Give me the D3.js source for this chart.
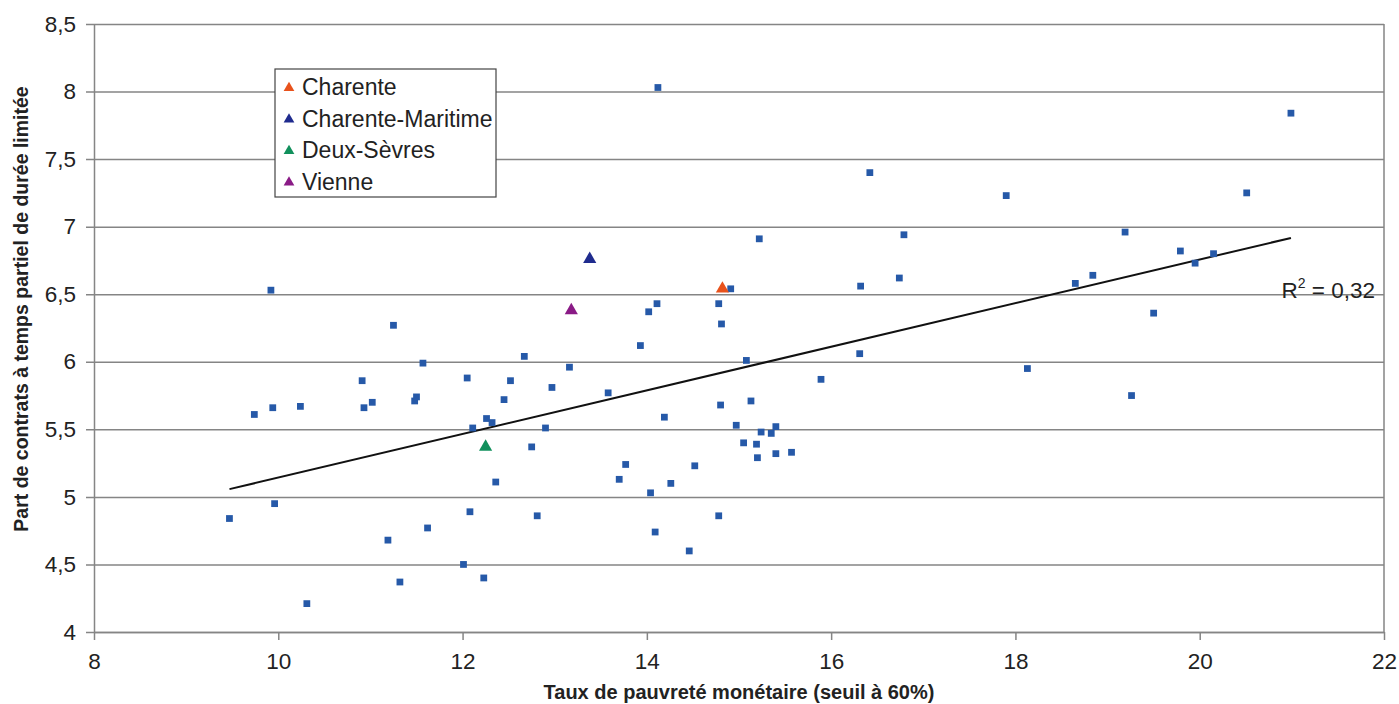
<!DOCTYPE html>
<html lang="fr">
<head>
<meta charset="utf-8">
<script src="https://cdn.jsdelivr.net/npm/d3@7"></script>
<style>
  html, body { margin: 0; padding: 0; background: #fff; }
  svg { display: block; font-family: "Liberation Sans", Arial, sans-serif; }
</style>
</head>
<body>
<svg id="chart" width="1399" height="704"></svg>
<script>
// Départements : taux de pauvreté monétaire (x) et part de contrats TPDL (y)
const povertyRate = [
  9.47, 9.74, 9.92, 9.94, 9.96, 10.24, 10.31, 10.91, 10.93, 11.02,
  11.19, 11.25, 11.32, 11.48, 11.50, 11.57, 11.62, 12.01, 12.05, 12.08,
  12.11, 12.23, 12.26, 12.32, 12.36, 12.45, 12.52, 12.67, 12.75, 12.81,
  12.90, 12.97, 13.16, 13.58, 13.70, 13.77, 13.93, 14.02, 14.04, 14.09,
  14.11, 14.12, 14.19, 14.26, 14.46, 14.52, 14.78, 14.78, 14.80, 14.81,
  14.91, 14.97, 15.05, 15.08, 15.13, 15.19, 15.20, 15.22, 15.24, 15.35,
  15.40, 15.40, 15.57, 15.89, 16.31, 16.32, 16.42, 16.74, 16.79, 17.90,
  18.13, 18.65, 18.84, 19.19, 19.26, 19.50, 19.79, 19.95, 20.15, 20.51,
  20.99
];
const partTimeShare = [
  4.84, 5.61, 6.53, 5.66, 4.95, 5.67, 4.21, 5.86, 5.66, 5.70,
  4.68, 6.27, 4.37, 5.71, 5.74, 5.99, 4.77, 4.50, 5.88, 4.89,
  5.51, 4.40, 5.58, 5.55, 5.11, 5.72, 5.86, 6.04, 5.37, 4.86,
  5.51, 5.81, 5.96, 5.77, 5.13, 5.24, 6.12, 6.37, 5.03, 4.74,
  6.43, 8.03, 5.59, 5.10, 4.60, 5.23, 6.43, 4.86, 5.68, 6.28,
  6.54, 5.53, 5.40, 6.01, 5.71, 5.39, 5.29, 6.91, 5.48, 5.47,
  5.52, 5.32, 5.33, 5.87, 6.06, 6.56, 7.40, 6.62, 6.94, 7.23,
  5.95, 6.58, 6.64, 6.96, 5.75, 6.36, 6.82, 6.73, 6.80, 7.25,
  7.84
];

// Départements de Poitou-Charentes mis en évidence
const regionNames = ["Charente", "Charente-Maritime", "Deux-Sèvres", "Vienne"];
const regionPoverty = [14.82, 13.38, 12.25, 13.18];
const regionShare = [6.54, 6.76, 5.37, 6.38];

const xTicks = [8, 10, 12, 14, 16, 18, 20, 22];
const yTicks = [4, 4.5, 5, 5.5, 6, 6.5, 7, 7.5, 8, 8.5];
const r2Label = "0,32";

const regionColors = ["#E8521C", "#1F2B8E", "#11905C", "#8A1B86"];
const pointColor = "#2659A8";

const W = 1399, H = 704;
const margin = { top: 24, right: 15, bottom: 72, left: 94 };
const svg = d3.select("#chart");

const x = d3.scaleLinear().domain([8, 22]).range([margin.left, W - margin.right]);
const y = d3.scaleLinear().domain([4, 8.5]).range([H - margin.bottom, margin.top]);

const fmt = v => String(v).replace(".", ",");
const gridColor = "#858585";

// Quadrillage horizontal + graduations de l'axe Y
const yAxis = d3.axisLeft(y).tickValues(yTicks).tickFormat(fmt)
  .tickSize(-(W - margin.left - margin.right)).tickSizeOuter(0).tickPadding(18);
const gy = svg.append("g").attr("transform", `translate(${margin.left},0)`).call(yAxis);
gy.select(".domain").attr("stroke", gridColor).attr("stroke-width", 1.5);
gy.selectAll(".tick line").attr("stroke", gridColor).attr("stroke-width", 1.5).attr("x1", -8);
gy.selectAll(".tick text").attr("font-size", 22.5).attr("fill", "#222")
  .attr("font-family", "Liberation Sans, Arial, sans-serif");

// Axe X
const xAxis = d3.axisBottom(x).tickValues(xTicks).tickFormat(d3.format("d"))
  .tickSize(8).tickSizeOuter(0).tickPadding(13);
const gx = svg.append("g").attr("transform", `translate(0,${H - margin.bottom})`).call(xAxis);
gx.select(".domain").attr("stroke", gridColor).attr("stroke-width", 1.5);
gx.selectAll(".tick line").attr("stroke", gridColor).attr("stroke-width", 1.5);
gx.selectAll(".tick text").attr("font-size", 22.5).attr("fill", "#222")
  .attr("font-family", "Liberation Sans, Arial, sans-serif");

// Bord droit du cadre
svg.append("line")
  .attr("x1", x(22)).attr("x2", x(22)).attr("y1", y(8.5)).attr("y2", y(4))
  .attr("stroke", gridColor).attr("stroke-width", 1.5);

// Droite de régression (moindres carrés sur tous les départements)
const allX = povertyRate.concat(regionPoverty);
const allY = partTimeShare.concat(regionShare);
const mx = d3.mean(allX), my = d3.mean(allY);
let sxy = 0, sxx = 0;
allX.forEach((v, i) => { sxy += (v - mx) * (allY[i] - my); sxx += (v - mx) ** 2; });
const slope = sxy / sxx, intercept = my - slope * mx;
const [xMin, xMax] = d3.extent(allX);
svg.append("line")
  .attr("x1", x(xMin)).attr("y1", y(intercept + slope * xMin))
  .attr("x2", x(xMax)).attr("y2", y(intercept + slope * xMax))
  .attr("stroke", "#111").attr("stroke-width", 2);

// Points des départements
const square = d3.symbol().type(d3.symbolSquare).size(46);
svg.append("g").selectAll("path")
  .data(povertyRate.map((v, i) => [v, partTimeShare[i]]))
  .join("path")
  .attr("d", square)
  .attr("transform", d => `translate(${x(d[0])},${y(d[1])})`)
  .attr("fill", pointColor);

// Départements de la région
const tri = d3.symbol().type(d3.symbolTriangle).size(75);
svg.append("g").selectAll("path")
  .data(regionNames.map((n, i) => ({ n, x: regionPoverty[i], y: regionShare[i], c: regionColors[i] })))
  .join("path")
  .attr("d", tri)
  .attr("transform", d => `translate(${x(d.x)},${y(d.y)})`)
  .attr("fill", d => d.c);

// Légende
const legend = svg.append("g").attr("transform", "translate(275,69)");
legend.append("rect").attr("width", 221).attr("height", 128)
  .attr("fill", "#fff").attr("stroke", "#444").attr("stroke-width", 1.2);
const legTri = d3.symbol().type(d3.symbolTriangle).size(50);
regionNames.forEach((n, i) => {
  const row = legend.append("g").attr("transform", `translate(0,${18 + i * 31.5})`);
  row.append("path").attr("d", legTri).attr("transform", "translate(14,1)").attr("fill", regionColors[i]);
  row.append("text").attr("x", 27).attr("y", 8).attr("font-size", 23).attr("fill", "#222").text(n);
});

// Coefficient de détermination
const r2 = svg.append("text").attr("x", 1375).attr("y", 298)
  .attr("text-anchor", "end").attr("font-size", 22.5).attr("fill", "#222");
r2.append("tspan").text("R");
r2.append("tspan").attr("font-size", 14).attr("dy", -10).text("2");
r2.append("tspan").attr("dy", 10).text(" = " + r2Label);

// Titres des axes
svg.append("text")
  .attr("x", x(15)).attr("y", 699).attr("text-anchor", "middle")
  .attr("font-size", 20).attr("font-weight", "bold").attr("fill", "#222")
  .text("Taux de pauvreté monétaire (seuil à 60%)");
svg.append("text")
  .attr("transform", "translate(28,309) rotate(-90)").attr("text-anchor", "middle")
  .attr("font-size", 19.5).attr("font-weight", "bold").attr("fill", "#222")
  .text("Part de contrats à temps partiel de durée limitée");
</script>
</body>
</html>
